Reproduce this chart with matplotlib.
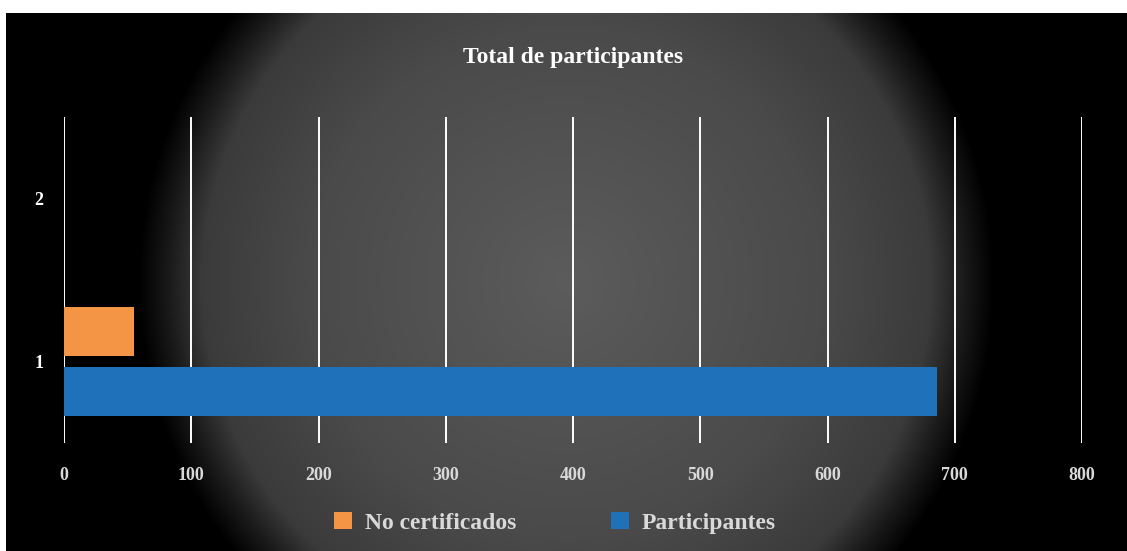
import numpy as np
import matplotlib.pyplot as plt

categorias = ['1', '2']
no_certificados = [55, 0]
participantes = [686, 0]
ticks_x = [0, 100, 200, 300, 400, 500, 600, 700, 800]

W, H = 1127, 551
fig = plt.figure(figsize=(W / 100, H / 100), dpi=100, facecolor='white')

# fondo negro con degradado radial (area del grafico)
bx0, by0 = 6, 13
bg = fig.add_axes([bx0 / W, 0, (W - bx0) / W, (H - by0) / H])
bg.set_axis_off()
xx, yy = np.meshgrid(np.arange(bx0, W), np.arange(by0, H))
r = np.sqrt((xx - 566) ** 2 + (yy - 282) ** 2) / 428
niv = np.interp(r, [0, 0.6, 0.85, 0.93, 1.0], [0.36, 0.29, 0.23, 0.10, 0.0])
bg.imshow(np.dstack([niv, niv, niv]), aspect='auto', interpolation='bilinear')

ax = fig.add_axes([64 / W, (H - 443) / H, (1082 - 64) / W, (443 - 117) / H])
ax.patch.set_alpha(0)

y = np.arange(len(categorias))
alto = 0.30
ax.barh(y + 0.184, no_certificados, height=alto, color='#f39545', label='No certificados', zorder=3)
ax.barh(y - 0.184, participantes, height=alto, color='#1f72ba', label='Participantes', zorder=3)

ax.set_xlim(0, 800)
ax.set_ylim(-0.5, 1.5)
ax.set_xticks(ticks_x)
ax.set_yticks(y)
ax.set_yticklabels(categorias)
ax.xaxis.grid(True, color='white', linewidth=1.4, zorder=1)
ax.set_axisbelow(True)
for s in ax.spines.values():
    s.set_visible(False)
ax.tick_params(length=0)
fuente = 'Liberation Serif'
for t in ax.get_xticklabels():
    t.set_fontfamily(fuente)
    t.set_fontweight('bold')
    t.set_fontsize(13)
    t.set_color('#d9d9d9')
for t in ax.get_yticklabels():
    t.set_fontfamily(fuente)
    t.set_fontweight('bold')
    t.set_fontsize(13)
    t.set_color('white')
ax.tick_params(axis='x', pad=17)
ax.tick_params(axis='y', pad=15)

fig.text(573 / W, 1 - 58 / H, 'Total de participantes', ha='center', va='center',
         fontfamily=fuente, fontweight='bold', fontsize=17, color='white')

leg = fig.legend(loc='center', bbox_to_anchor=(555 / W, 1 - 523 / H), ncol=2,
                 frameon=False, columnspacing=4.0, handlelength=0.76, handleheight=0.76,
                 handletextpad=0.55,
                 prop={'family': fuente, 'weight': 'bold', 'size': 17})
for t in leg.get_texts():
    t.set_color('#d9d9d9')

fig.savefig('out.png', dpi=100, facecolor='white')
